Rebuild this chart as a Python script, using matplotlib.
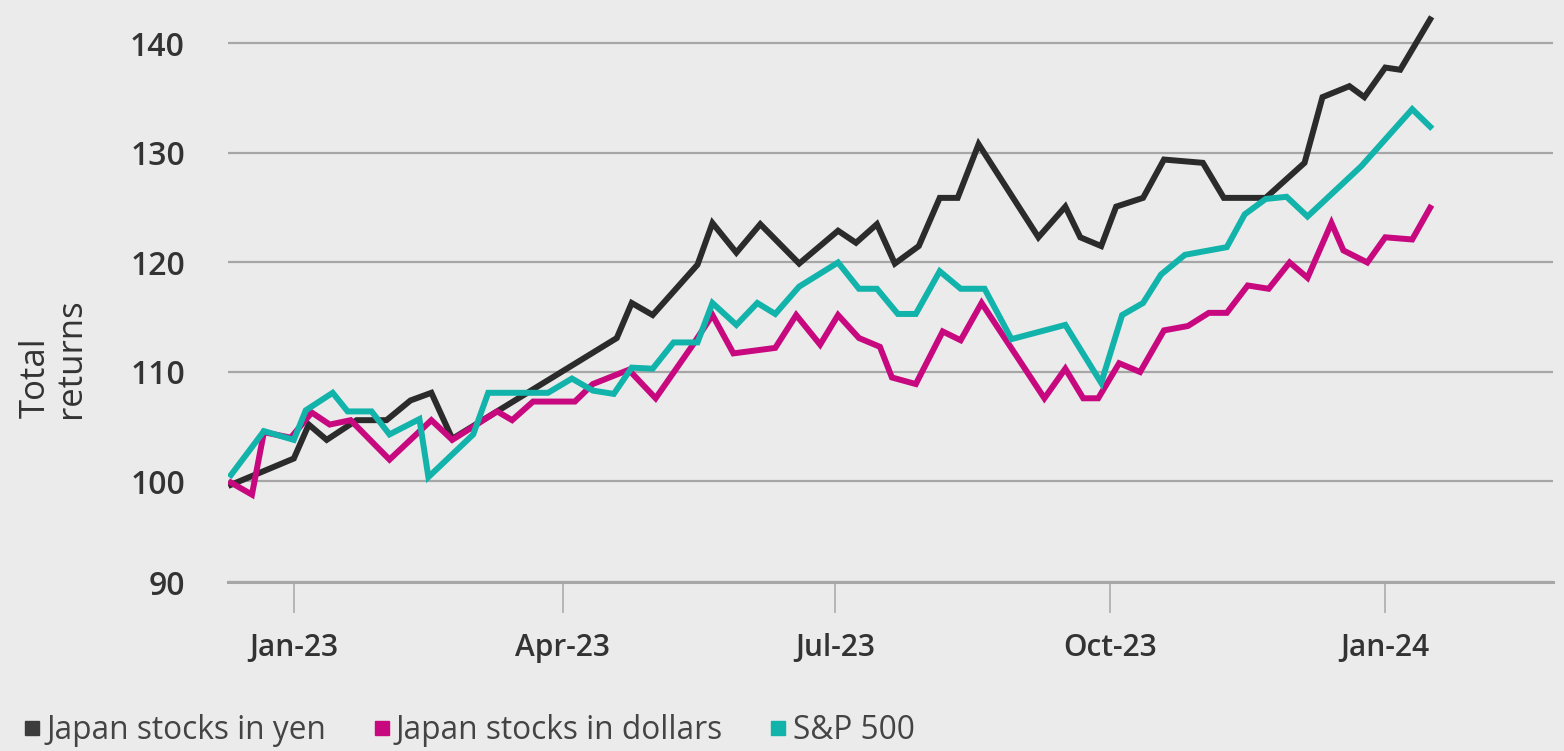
import matplotlib
matplotlib.use("Agg")
import matplotlib.pyplot as plt
import matplotlib.dates as mdates
from matplotlib.lines import Line2D
import pandas as pd

# Japan stocks in yen
YEN_DATES = [
    "2022-12-11", "2023-01-01", "2023-01-06", "2023-01-12", "2023-01-22",
    "2023-02-01", "2023-02-09", "2023-02-16", "2023-02-23", "2023-04-19",
    "2023-04-24", "2023-05-01", "2023-05-16", "2023-05-21", "2023-05-29",
    "2023-06-06", "2023-06-19", "2023-07-02", "2023-07-08", "2023-07-15",
    "2023-07-21", "2023-07-29", "2023-08-05", "2023-08-11", "2023-08-18",
    "2023-09-07", "2023-09-16", "2023-09-21", "2023-09-28", "2023-10-03",
    "2023-10-12", "2023-10-19", "2023-11-01", "2023-11-08", "2023-11-22",
    "2023-12-05", "2023-12-11", "2023-12-20", "2023-12-25", "2024-01-01",
    "2024-01-06", "2024-01-16",
]
YEN_VALUES = [
    99.7, 102.1, 105.2, 103.8, 105.6, 105.6, 107.4, 108.1, 103.9, 113.1,
    116.3, 115.2, 119.8, 123.6, 120.9, 123.5, 119.9, 122.9, 121.8, 123.5,
    119.9, 121.5, 125.9, 125.9, 130.8, 122.3, 125.1, 122.3, 121.5, 125.1,
    125.9, 129.4, 129.1, 125.9, 125.9, 129.1, 135.1, 136.1, 135.1, 137.8,
    137.6, 142.2,
]

# Japan stocks in dollars
USD_DATES = [
    "2022-12-11", "2022-12-18", "2022-12-22", "2022-12-31", "2023-01-07",
    "2023-01-13", "2023-01-20", "2023-02-02", "2023-02-16", "2023-02-23",
    "2023-03-10", "2023-03-15", "2023-03-22", "2023-04-05", "2023-04-11",
    "2023-04-23", "2023-05-02", "2023-05-14", "2023-05-21", "2023-05-28",
    "2023-06-11", "2023-06-18", "2023-06-26", "2023-07-02", "2023-07-09",
    "2023-07-16", "2023-07-20", "2023-07-28", "2023-08-06", "2023-08-12",
    "2023-08-19", "2023-09-09", "2023-09-16", "2023-09-22", "2023-09-27",
    "2023-10-04", "2023-10-11", "2023-10-19", "2023-10-27", "2023-11-03",
    "2023-11-09", "2023-11-16", "2023-11-23", "2023-11-30", "2023-12-06",
    "2023-12-14", "2023-12-18", "2023-12-26", "2024-01-01", "2024-01-10",
    "2024-01-16",
]
USD_VALUES = [
    99.9, 98.8, 104.5, 104.0, 106.3, 105.2, 105.6, 102.0, 105.6, 103.8,
    106.4, 105.6, 107.3, 107.3, 108.9, 110.2, 107.6, 112.3, 115.2, 111.7,
    112.2, 115.2, 112.5, 115.2, 113.1, 112.3, 109.5, 108.9, 113.7, 112.9,
    116.3, 107.6, 110.3, 107.6, 107.6, 110.8, 110.0, 113.8, 114.2, 115.4,
    115.4, 117.9, 117.6, 120.0, 118.6, 123.6, 121.1, 120.0, 122.3, 122.1,
    125.0,
]

# S&P 500
SPX_DATES = [
    "2022-12-11", "2022-12-22", "2023-01-01", "2023-01-05", "2023-01-14",
    "2023-01-19", "2023-01-27", "2023-02-02", "2023-02-12", "2023-02-15",
    "2023-03-02", "2023-03-07", "2023-03-27", "2023-04-04", "2023-04-11",
    "2023-04-18", "2023-04-24", "2023-05-01", "2023-05-08", "2023-05-16",
    "2023-05-21", "2023-05-29", "2023-06-05", "2023-06-11", "2023-06-19",
    "2023-07-02", "2023-07-09", "2023-07-15", "2023-07-22", "2023-07-28",
    "2023-08-05", "2023-08-12", "2023-08-20", "2023-08-29", "2023-09-16",
    "2023-09-28", "2023-10-05", "2023-10-12", "2023-10-18", "2023-10-26",
    "2023-11-09", "2023-11-15", "2023-11-22", "2023-11-29", "2023-12-06",
    "2023-12-24", "2024-01-10", "2024-01-16",
]
SPX_VALUES = [
    100.6, 104.6, 103.8, 106.5, 108.1, 106.4, 106.4, 104.3, 105.7, 100.4,
    104.3, 108.1, 108.1, 109.4, 108.3, 108.0, 110.4, 110.3, 112.7, 112.7,
    116.3, 114.3, 116.3, 115.3, 117.8, 120.0, 117.6, 117.6, 115.3, 115.3,
    119.2, 117.6, 117.6, 113.0, 114.3, 109.0, 115.2, 116.3, 118.9, 120.7,
    121.4, 124.4, 125.8, 126.0, 124.2, 128.8, 134.0, 132.4,
]

LABELS = ["Japan stocks in yen", "Japan stocks in dollars", "S&P 500"]
COLORS = ["#2b2b2b", "#c8087f", "#11b3aa"]
LEGEND_COLORS = ["#3c3c3c", "#c8087f", "#11b3aa"]
TICK_DATES = ["2023-01-01", "2023-04-01", "2023-07-01", "2023-10-01", "2024-01-01"]
Y_TICKS = [100, 110, 120, 130, 140]

BG = "#ebebeb"
TEXT = "#333333"
GRID = "#a6a6a6"

plt.rcParams["font.family"] = ["Open Sans", "DejaVu Sans"]

fig = plt.figure(figsize=(15.64, 7.51), dpi=100, facecolor=BG)
ax = fig.add_axes([0.1458, 0.225, 0.847, 0.775], facecolor=BG)

series = [(YEN_DATES, YEN_VALUES), (USD_DATES, USD_VALUES), (SPX_DATES, SPX_VALUES)]
for (dates, vals), color, label in zip(series, COLORS, LABELS):
    ax.plot(pd.to_datetime(dates), vals, color=color, lw=4.3,
            solid_joinstyle="miter", label=label, zorder=3)

ymin, ymax = 90.82, 143.97
ax.set_ylim(ymin, ymax)
ax.set_xlim(pd.Timestamp("2022-12-10"), pd.Timestamp("2024-02-26"))

# bottom line sits where the "90" gridline is drawn
ax.set_yticks([ymin] + Y_TICKS, labels=["90"] + [str(t) for t in Y_TICKS])
ax.yaxis.grid(True, color=GRID, lw=1.6)
ax.set_axisbelow(True)
ax.tick_params(axis="y", length=0, pad=31, labelsize=23, labelcolor=TEXT)
for lbl in ax.get_yticklabels():
    lbl.set_fontweight("semibold")

ax.set_xticks(pd.to_datetime(TICK_DATES))
ax.xaxis.set_major_formatter(mdates.DateFormatter("%b-%y"))
ax.tick_params(axis="x", length=22, width=1.1, color=GRID, pad=15,
               labelsize=21.5, labelcolor=TEXT)
for lbl in ax.get_xticklabels():
    lbl.set_fontweight("semibold")

for side in ["top", "right", "left"]:
    ax.spines[side].set_visible(False)
ax.spines["bottom"].set_color(GRID)
ax.spines["bottom"].set_linewidth(2.2)

fig.text(0.034, 0.523, "Total\nreturns", rotation=90, ha="center", va="center",
         multialignment="left", fontsize=25, color=TEXT, linespacing=1.05)

handles = [Line2D([], [], ls="none", marker="s", markersize=10.5, color=c)
           for c in LEGEND_COLORS]
fig.legend(handles, LABELS, loc="center left", bbox_to_anchor=(0.0155, 0.027),
           ncol=3, frameon=False, fontsize=22.8, labelcolor="#444444",
           handlelength=0.5, handletextpad=0.2, columnspacing=1.5,
           borderpad=0, borderaxespad=0)

fig.savefig("out.png", dpi=100, facecolor=BG)
